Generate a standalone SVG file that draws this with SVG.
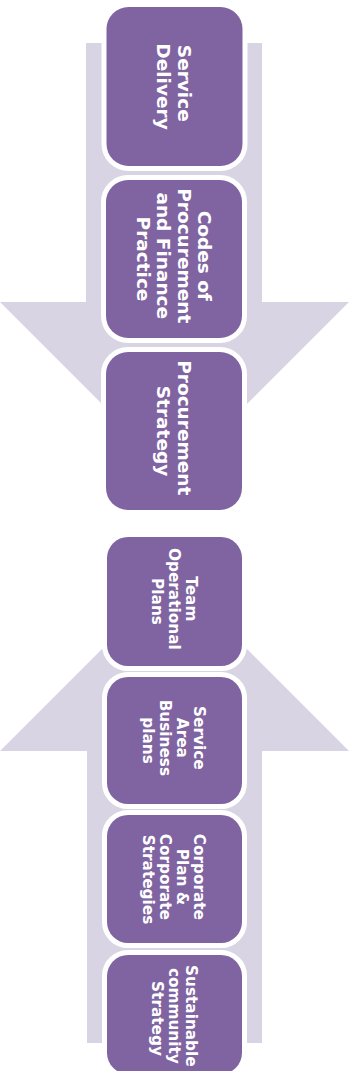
<svg xmlns="http://www.w3.org/2000/svg" width="361" height="1071" viewBox="0 0 361 1071">
  <style>
    .arrow { fill: #D8D4E3; }
    .box { fill: #8064A2; stroke: #FFFFFF; stroke-width: 10; paint-order: stroke; }
    .lbl { fill: #FFFFFF; font-family: "DejaVu Sans", Verdana, sans-serif; font-weight: bold; text-anchor: middle; }
    .big { font-size: 18.5px; }
    .small { font-size: 15.3px; }
  </style>
  <rect width="361" height="1071" fill="#FFFFFF"/>
  <g id="connectors">
    <polygon class="arrow" points="86,43 262,43 262,302 349,302 174.5,476.5 0,302 86,302"/>
    <polygon class="arrow" points="87,1043 262,1043 262,751 349,751 174.5,576.5 0,751 87,751"/>
  </g>

  <g id="service-delivery">
    <rect class="box" x="106.5" y="7" width="136" height="159" rx="22"/>
    <text class="lbl big" transform="translate(174,86.5) rotate(90)">
      <tspan x="0" y="-3.75">Service</tspan>
      <tspan x="0" y="16.75">Delivery</tspan>
    </text>
  </g>
  <g id="codes-of-procurement">
    <rect class="box" x="106" y="180" width="136" height="158" rx="22"/>
    <text class="lbl big" transform="translate(174,259) rotate(90)">
      <tspan x="0" y="-24.25">Codes of</tspan>
      <tspan x="0" y="-3.75">Procurement</tspan>
      <tspan x="0" y="16.75">and Finance</tspan>
      <tspan x="0" y="37.25">Practice</tspan>
    </text>
  </g>
  <g id="procurement-strategy">
    <rect class="box" x="106" y="352" width="136" height="158" rx="22"/>
    <text class="lbl big" transform="translate(174,431) rotate(90)">
      <tspan x="0" y="-3.75">Procurement</tspan>
      <tspan x="0" y="16.75">Strategy</tspan>
    </text>
  </g>

  <g id="team-operational-plans">
    <rect class="box" x="107" y="537" width="135" height="129" rx="21"/>
    <text class="lbl small" transform="translate(174,601.5) rotate(90)">
      <tspan x="0" y="-11.6">Team</tspan>
      <tspan x="0" y="5.4">Operational</tspan>
      <tspan x="0" y="22.4">Plans</tspan>
    </text>
  </g>
  <g id="service-area-business-plans">
    <rect class="box" x="107" y="677" width="135" height="127" rx="21"/>
    <text class="lbl small" transform="translate(174,740.5) rotate(90)">
      <tspan x="0" y="-20.1">Service</tspan>
      <tspan x="0" y="-3.1">Area</tspan>
      <tspan x="0" y="13.9">Business</tspan>
      <tspan x="0" y="30.9">plans</tspan>
    </text>
  </g>
  <g id="corporate-plan">
    <rect class="box" x="107" y="815" width="135" height="128" rx="21"/>
    <text class="lbl small" transform="translate(174,879.5) rotate(90)">
      <tspan x="0" y="-20.1">Corporate</tspan>
      <tspan x="0" y="-3.1">Plan &amp;</tspan>
      <tspan x="0" y="13.9">Corporate</tspan>
      <tspan x="0" y="30.9">Strategies</tspan>
    </text>
  </g>
  <g id="sustainable-community-strategy">
    <rect class="box" x="107" y="955" width="135" height="119" rx="21"/>
    <text class="lbl small" transform="translate(174,1018.5) rotate(90)">
      <tspan x="0" y="-11.6">Sustainable</tspan>
      <tspan x="0" y="5.4">community</tspan>
      <tspan x="0" y="22.4">Strategy</tspan>
    </text>
  </g>
</svg>
